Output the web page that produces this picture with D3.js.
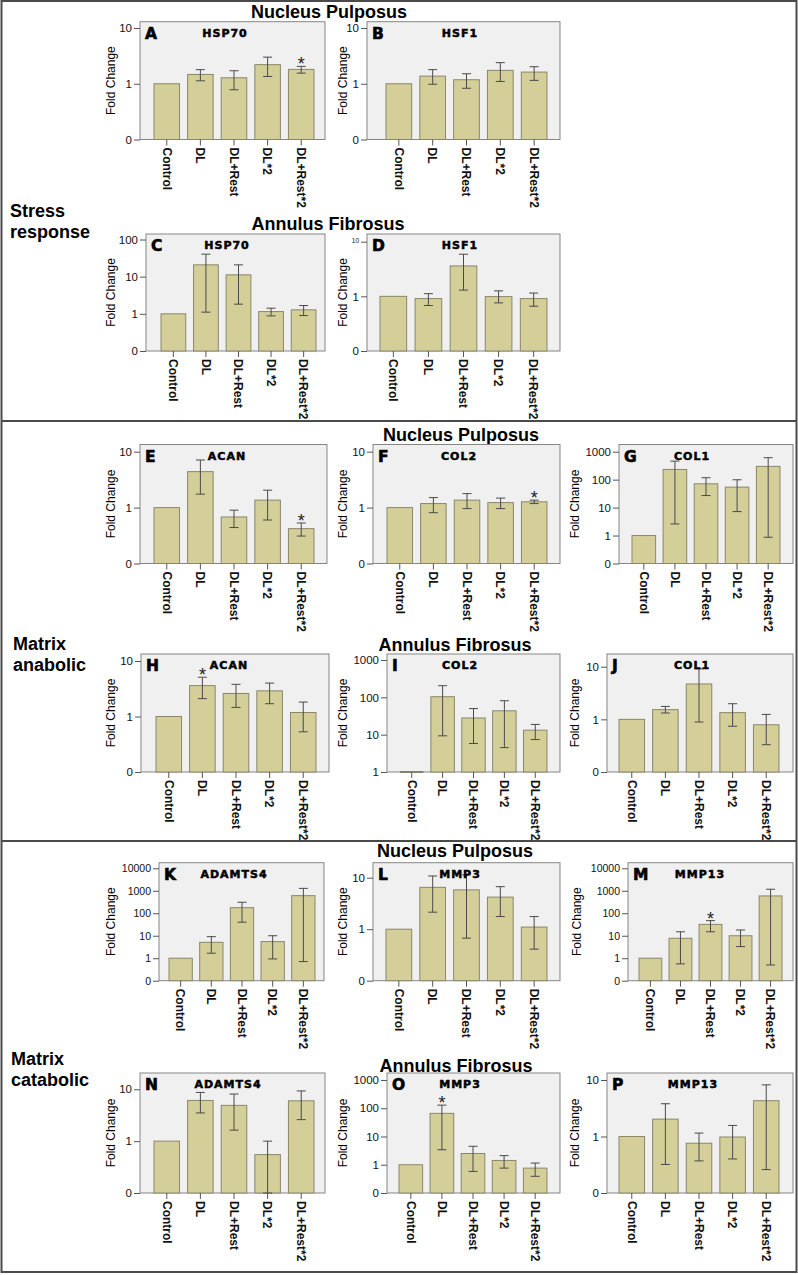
<!DOCTYPE html>
<html><head><meta charset="utf-8">
<script src="https://cdn.jsdelivr.net/npm/d3@7"></script>
<style>body{margin:0;background:#fff}</style>
</head><body>
<svg id="c" width="798" height="1275"></svg>
<script>
// ---------- DATA ----------
const categories = ["Control","DL","DL+Rest","DL*2","DL+Rest*2"];

const meanA = [1, 1.47, 1.28, 2.2, 1.81];  const lowA = [1, 1.13, 0.78, 1.35, 1.55]; const highA = [1, 1.79, 1.71, 3.0, 2.05];
const meanB = [1, 1.37, 1.18, 1.74, 1.62]; const lowB = [1, 0.98, 0.83, 1.1, 1.15];  const highB = [1, 1.79, 1.51, 2.39, 2.02];
const meanC = [1, 20.8, 11.2, 1.15, 1.28]; const lowC = [1, 1.11, 1.82, 0.88, 0.9];  const highC = [1, 40.3, 20.8, 1.42, 1.67];
const meanD = [1, 0.91, 3.6, 0.99, 0.91];  const lowD = [1, 0.68, 1.3, 0.76, 0.66];  const highD = [1, 1.12, 5.9, 1.26, 1.15];
const meanE = [1, 4.4, 0.68, 1.36, 0.42];  const lowE = [1, 1.74, 0.44, 0.6, 0.31];  const highE = [1, 7.1, 0.9, 2.05, 0.53];
const meanF = [1, 1.18, 1.36, 1.23, 1.27]; const lowF = [1, 0.81, 0.96, 0.96, 1.18]; const highF = [1, 1.51, 1.78, 1.48, 1.36];
const meanG = [1, 232, 71, 54, 298];       const lowG = [1, 2.6, 27, 7.2, 0.87];     const highG = [1, 460, 117, 99, 610];
const meanH = [1, 3.6, 2.6, 2.9, 1.18];    const lowH = [1, 2.1, 1.46, 1.7, 0.53];   const highH = [1, 5.1, 3.8, 4.0, 1.82];
const meanI = [1, 104, 28, 43.6, 13.2];    const lowI = [1, 9.3, 5.8, 4.5, 7.4];     const highI = [1, 205, 50, 81, 18.8];
const meanJ = [1, 1.53, 4.7, 1.34, 0.79];  const lowJ = [1, 1.32, 0.89, 0.74, 0.33]; const highJ = [1, 1.76, 9.1, 1.98, 1.24];
const meanK = [1, 5.1, 177, 5.5, 607];     const lowK = [1, 1.67, 40, 0.93, 0.71];   const highK = [1, 9.1, 309, 10, 1280];
const meanL = [1, 6.5, 5.8, 4.2, 1.1];     const lowL = [1, 2.14, 0.67, 1.76, 0.41]; const highL = [1, 10.8, 11.3, 6.7, 1.76];
const meanM = [1, 7.7, 32, 10, 590];       const lowM = [1, 0.56, 15, 3.3, 0.5];     const highM = [1, 15, 47, 18, 1170];
const meanN = [1, 6.1, 4.9, 0.55, 6.0];    const lowN = [1, 3.5, 1.63, 0.1, 2.6];    const highN = [1, 8.7, 8.1, 1.0, 9.3];
const meanO = [1, 66, 2.5, 1.42, 0.76];    const lowO = [1, 3.4, 0.58, 0.76, 0.39];  const highO = [1, 129, 4.5, 2.1, 1.15];
const meanP = [1, 2.03, 0.76, 0.98, 4.3];  const lowP = [1, 0.32, 0.37, 0.4, 0.26];  const highP = [1, 3.8, 1.15, 1.57, 8.2];

const ticks10 = [0.1, 1, 10];                     const labels10 = ["0","1","10"];
const ticks100 = [0.1, 1, 10, 100];               const labels100 = ["0","1","10","100"];
const ticks1000 = [0.1, 1, 10, 100, 1000];        const labels1000 = ["0","1","10","100","1000"];
const ticks10000 = [0.1, 1, 10, 100, 1000, 10000];const labels10000 = ["0","1","10","100","1000","10000"];
const ticksFrom1 = [1, 10, 100, 1000];            const labelsFrom1 = ["1","10","100","1000"];

const significant = [["A","DL+Rest*2"],["E","DL+Rest*2"],["F","DL+Rest*2"],["H","DL"],["M","DL+Rest"],["O","DL"]];

const panels = [
  {id:"A", gene:"HSP70",   mean:meanA, lo:lowA, hi:highA, ticks:ticks10,    labels:labels10},
  {id:"B", gene:"HSF1",    mean:meanB, lo:lowB, hi:highB, ticks:ticks10,    labels:labels10},
  {id:"C", gene:"HSP70",   mean:meanC, lo:lowC, hi:highC, ticks:ticks100,   labels:labels100},
  {id:"D", gene:"HSF1",    mean:meanD, lo:lowD, hi:highD, ticks:ticks10,    labels:labels10},
  {id:"E", gene:"ACAN",    mean:meanE, lo:lowE, hi:highE, ticks:ticks10,    labels:labels10},
  {id:"F", gene:"COL2",    mean:meanF, lo:lowF, hi:highF, ticks:ticks10,    labels:labels10},
  {id:"G", gene:"COL1",    mean:meanG, lo:lowG, hi:highG, ticks:ticks1000,  labels:labels1000},
  {id:"H", gene:"ACAN",    mean:meanH, lo:lowH, hi:highH, ticks:ticks10,    labels:labels10},
  {id:"I", gene:"COL2",    mean:meanI, lo:lowI, hi:highI, ticks:ticksFrom1, labels:labelsFrom1},
  {id:"J", gene:"COL1",    mean:meanJ, lo:lowJ, hi:highJ, ticks:ticks10,    labels:labels10},
  {id:"K", gene:"ADAMTS4", mean:meanK, lo:lowK, hi:highK, ticks:ticks10000, labels:labels10000},
  {id:"L", gene:"MMP3",    mean:meanL, lo:lowL, hi:highL, ticks:ticks10,    labels:labels10},
  {id:"M", gene:"MMP13",   mean:meanM, lo:lowM, hi:highM, ticks:ticks10000, labels:labels10000},
  {id:"N", gene:"ADAMTS4", mean:meanN, lo:lowN, hi:highN, ticks:ticks10,    labels:labels10},
  {id:"O", gene:"MMP3",    mean:meanO, lo:lowO, hi:highO, ticks:ticks1000,  labels:labels1000},
  {id:"P", gene:"MMP13",   mean:meanP, lo:lowP, hi:highP, ticks:ticks10,    labels:labels10}
];

// ---------- LAYOUT ----------
const layout = {
  A:{x0:140,x1:325,top:21.7,base:139.5,tt:28,   bL:154,bR:314,tx:225,fx:111},
  B:{x0:367,x1:560,top:21.7,base:139.5,tt:28,   bL:386,bR:547,tx:460,fx:343},
  C:{x0:146,x1:325,top:234, base:351,  tt:239.5,bL:161,bR:316,tx:227,fx:111},
  D:{x0:367,x1:560,top:234, base:351,  tt:241.7,bL:380,bR:547,tx:460,fx:343,smallTop:true},
  E:{x0:140,x1:327,top:444.5,base:563.5,tt:451.7,bL:154,bR:314,tx:227,fx:111},
  F:{x0:373,x1:560,top:444.5,base:563.5,tt:451.7,bL:387,bR:547,tx:459,fx:343},
  G:{x0:619,x1:793,top:444.5,base:563.5,tt:451.7,bL:632,bR:780,tx:692,fx:575},
  H:{x0:141,x1:329,top:654, base:772,  tt:661,  bL:156,bR:316,tx:229,fx:111},
  I:{x0:387,x1:560,top:654, base:772,  tt:660,  bL:400,bR:547,tx:460,fx:343},
  J:{x0:607,x1:793,top:654, base:772,  tt:666.7,bL:619,bR:779,tx:692,fx:575},
  K:{x0:159,x1:324,top:862.7,base:980.7,tt:868.3,bL:169,bR:315,tx:234,fx:111},
  L:{x0:373,x1:560,top:862.7,base:980.7,tt:877.7,bL:386,bR:547,tx:460,fx:343},
  M:{x0:628,x1:793,top:862.7,base:980.7,tt:868.3,bL:639,bR:782,tx:700,fx:577},
  N:{x0:140,x1:325,top:1073,base:1193, tt:1089.3,bL:154,bR:314,tx:228,fx:111},
  O:{x0:387,x1:560,top:1073,base:1193, tt:1080, bL:399,bR:547,tx:460,fx:343},
  P:{x0:607,x1:793,top:1073,base:1193, tt:1080, bL:619,bR:779,tx:693,fx:575}
};

const FONT = "'Liberation Sans', Arial, Helvetica, sans-serif";
const HEAVY = "'DejaVu Sans', 'Liberation Sans', Arial, sans-serif";
const svg = d3.select("#c");

svg.append("rect").attr("x",1.5).attr("y",1).attr("width",795).attr("height",1271)
  .attr("fill","none").attr("stroke","#4a4a4a").attr("stroke-width",2);
[421, 841].forEach(yy => svg.append("line").attr("x1",1.5).attr("x2",796.5).attr("y1",yy).attr("y2",yy)
  .attr("stroke","#4a4a4a").attr("stroke-width",2));

const headings = [
  {t:"Nucleus Pulposus", x:329, y:18}, {t:"Annulus Fibrosus", x:328, y:230},
  {t:"Nucleus Pulposus", x:461, y:441}, {t:"Annulus Fibrosus", x:455, y:651},
  {t:"Nucleus Pulposus", x:455, y:857}, {t:"Annulus Fibrosus", x:456, y:1072}
];
headings.forEach(h => svg.append("text").attr("x",h.x).attr("y",h.y).attr("text-anchor","middle")
  .style("font-family",FONT).style("font-weight","bold").style("font-size","18px").text(h.t));

const sideLabels = [
  {lines:["Stress","response"], x:10, y:217},
  {lines:["Matrix","anabolic"], x:13, y:650},
  {lines:["Matrix","catabolic"], x:11, y:1065}
];
sideLabels.forEach(s => {
  const t = svg.append("text").attr("x",s.x).attr("y",s.y)
    .style("font-family",FONT).style("font-weight","bold").style("font-size","18px");
  s.lines.forEach((ln,i) => t.append("tspan").attr("x",s.x).attr("dy", i===0?0:20.5).text(ln));
});

panels.forEach(p => {
  const L = layout[p.id];
  const g = svg.append("g");
  const y = d3.scaleLog().domain([p.ticks[0], p.ticks[p.ticks.length-1]]).range([L.base, L.tt]);
  const x = d3.scaleBand().domain(categories).range([L.bL, L.bR]).paddingInner(0.24).paddingOuter(0);

  g.append("rect").attr("x",L.x0).attr("y",L.top).attr("width",L.x1-L.x0).attr("height",L.base-L.top)
    .attr("fill","#f0f0f0").attr("stroke","#858585").attr("stroke-width",1);

  categories.forEach((c,i) => {
    const yt = y(p.mean[i]);
    const h = L.base - yt;
    if (h < 1) {
      g.append("line").attr("x1",x(c)).attr("x2",x(c)+x.bandwidth()).attr("y1",L.base).attr("y2",L.base)
        .attr("stroke","#6f6c55").attr("stroke-width",1.5);
    } else {
      g.append("rect").attr("x",x(c)).attr("y",yt).attr("width",x.bandwidth()).attr("height",h)
        .attr("fill","#d4ce99").attr("stroke","#8a876a").attr("stroke-width",1);
    }
  });
  categories.forEach((c,i) => {
    if (p.lo[i] === p.hi[i]) return;
    const cx = x(c) + x.bandwidth()/2;
    const y1 = y(p.lo[i]), y2 = y(p.hi[i]);
    g.append("line").attr("x1",cx).attr("x2",cx).attr("y1",y1).attr("y2",y2).attr("stroke","#4a4a4a").attr("stroke-width",1);
    [y1,y2].forEach(yy => g.append("line").attr("x1",cx-4.5).attr("x2",cx+4.5).attr("y1",yy).attr("y2",yy)
      .attr("stroke","#4a4a4a").attr("stroke-width",1));
  });
  significant.filter(s => s[0]===p.id).forEach(s => {
    const i = categories.indexOf(s[1]);
    const cx = x(s[1]) + x.bandwidth()/2;
    g.append("text").attr("x",cx).attr("y",y(p.hi[i])+4).attr("text-anchor","middle")
      .style("font-family",FONT).style("font-size","18px").attr("fill","#222").text("*");
  });

  const ya = g.append("g").attr("transform",`translate(${L.x0},0)`)
    .call(d3.axisLeft(y).tickValues(p.ticks).tickFormat((d,i)=>p.labels[i]).tickSize(6).tickPadding(2));
  ya.select(".domain").remove();
  ya.selectAll("line").attr("stroke","#555");
  ya.selectAll("text").style("font-family",FONT).style("font-size", p.labels.length>5 ? "10.5px" : "11.5px").attr("fill","#111");
  if (L.smallTop) ya.selectAll("text").filter((d,i)=>i===p.ticks.length-1).style("font-size","6.5px").attr("dy","0.1em");

  const xa = g.append("g").attr("transform",`translate(0,${L.base})`)
    .call(d3.axisBottom(x).tickSize(6).tickPadding(0));
  xa.select(".domain").remove();
  xa.selectAll("line").attr("stroke","#555");
  xa.selectAll("text").attr("transform","rotate(90)").attr("x",8).attr("y",0).attr("dy","0.35em")
    .attr("text-anchor","start").style("font-family",FONT).style("font-weight","bold").style("font-size","12px").attr("fill","#111");

  g.append("text").attr("transform",`translate(${L.fx},${(L.top+L.base)/2}) rotate(-90)`)
    .attr("text-anchor","middle").attr("dy","0.35em")
    .style("font-family",FONT).style("font-size","12px").text("Fold Change");

  g.append("text").attr("x",L.x0+5).attr("y",L.top+17)
    .style("font-family",HEAVY).style("font-weight","bold").style("font-size","15.5px")
    .attr("stroke","#000").attr("stroke-width",0.6).text(p.id);
  g.append("text").attr("x",L.tx).attr("y",L.top+15).attr("text-anchor","middle")
    .style("font-family",HEAVY).style("font-weight","bold").style("font-size","11px")
    .style("letter-spacing","1px").attr("stroke","#000").attr("stroke-width",0.5).text(p.gene);
});
</script>
</body></html>
